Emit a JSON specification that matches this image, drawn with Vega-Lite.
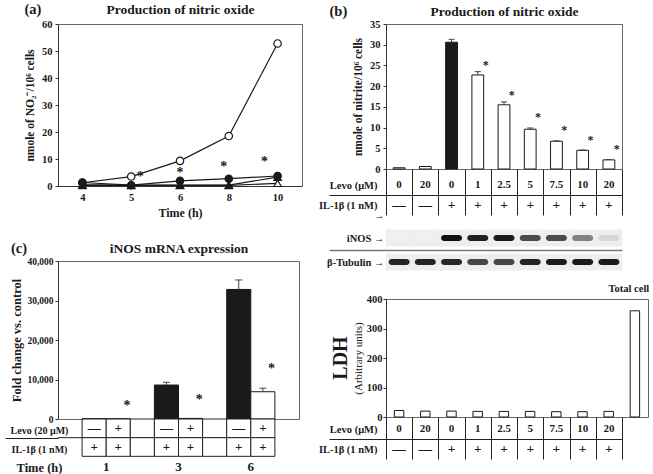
{
  "$schema": "https://vega.github.io/schema/vega-lite/v6.json",
  "background": "white",
  "padding": {"left": 4, "top": 1, "right": 0, "bottom": 0},
  "config": {
    "font": "Liberation Serif",
    "view": {"stroke": "#666", "strokeWidth": 1},
    "axis": {"labelFont": "Liberation Serif", "titleFont": "Liberation Serif", "labelFontWeight": "bold", "titleFontWeight": "bold", "labelFontSize": 10.5, "titleFontSize": 11.5, "labelColor": "#1a1a1a", "titleColor": "#1a1a1a", "domainColor": "#333", "tickColor": "#333", "grid": false, "labelOverlap": false},
    "title": {"font": "Liberation Serif", "fontWeight": "bold", "fontSize": 14.5, "color": "#1a1a1a"},
    "text": {"font": "Liberation Serif", "fontWeight": "bold", "color": "#1a1a1a"}
  },
  "spacing": 15,
  "hconcat": [
    {
      "spacing": 0,
      "bounds": "flush",
      "vconcat": [
        {
          "width": 244, "height": 162,
          "title": {"text": "(a)", "anchor": "start", "frame": "bounds", "offset": -15},
          "data": {"values": [
            {"time": 4, "series": "ot", "value": 0.2}, {"time": 5, "series": "ot", "value": 0.2}, {"time": 6, "series": "ot", "value": 0.2}, {"time": 8, "series": "ot", "value": 0.2}, {"time": 10, "series": "ot", "value": 1.0},
            {"time": 4, "series": "ft", "value": 0.4}, {"time": 5, "series": "ft", "value": 0.3}, {"time": 6, "series": "ft", "value": 0.3}, {"time": 8, "series": "ft", "value": 0.3}, {"time": 10, "series": "ft", "value": 3.3},
            {"time": 4, "series": "oc", "value": 1.2}, {"time": 5, "series": "oc", "value": 3.5}, {"time": 6, "series": "oc", "value": 9.3}, {"time": 8, "series": "oc", "value": 18.5}, {"time": 10, "series": "oc", "value": 52.8},
            {"time": 4, "series": "fc", "value": 1.3}, {"time": 5, "series": "fc", "value": 0.3}, {"time": 6, "series": "fc", "value": 1.9}, {"time": 8, "series": "fc", "value": 2.7}, {"time": 10, "series": "fc", "value": 3.7}
          ]},
          "resolve": {"axis": {"x": "independent"}},
          "layer": [
            {
              "mark": {"type": "line", "color": "#1a1a1a", "strokeWidth": 1.2},
              "encoding": {
                "x": {"field": "time", "type": "ordinal", "scale": {"type": "point", "domain": [4, 5, 6, 8, 10], "padding": 0.5},
                      "axis": {"orient": "bottom", "title": "Time (h)", "labelAngle": 0, "titleFontSize": 12, "labelPadding": 6, "titlePadding": 5, "ticks": false}},
                "y": {"field": "value", "type": "quantitative", "scale": {"domain": [0, 60]}, "title": "nmole of NO₂⁻/10⁶ cells",
                      "axis": {"values": [0, 10, 20, 30, 40, 50, 60], "tickCount": 7, "titlePadding": 6, "labelPadding": 3, "tickSize": 3, "labelOverlap": false}},
                "detail": {"field": "series"}
              }
            },
            {
              "mark": {"type": "point", "filled": true, "stroke": "#1a1a1a", "strokeWidth": 1.2, "size": 55, "opacity": 1},
              "encoding": {
                "x": {"field": "time", "type": "ordinal", "axis": {"orient": "top", "title": "Production of nitric oxide", "labels": false, "ticks": false, "domain": false, "titleFontSize": 13.5, "titlePadding": 8}},
                "y": {"field": "value", "type": "quantitative", "title": "nmole of NO₂⁻/10⁶ cells", "axis": {"values": [0, 10, 20, 30, 40, 50, 60], "tickCount": 7, "titlePadding": 6, "labelPadding": 3, "tickSize": 3, "labelOverlap": false}},
                "fill": {"field": "series", "type": "nominal", "scale": {"domain": ["ot", "ft", "oc", "fc"], "range": ["white", "#1a1a1a", "white", "#1a1a1a"]}, "legend": null},
                "shape": {"field": "series", "type": "nominal", "scale": {"domain": ["ot", "ft", "oc", "fc"], "range": ["triangle-up", "triangle-up", "circle", "circle"]}, "legend": null}
              }
            },
            {
              "data": {"values": [{"time": 5, "value": 3.2}]},
              "mark": {"type": "text", "text": "*", "fontSize": 14, "dx": 9, "baseline": "middle"},
              "encoding": {"x": {"field": "time", "type": "ordinal", "axis": null}, "y": {"field": "value", "type": "quantitative", "title": "nmole of NO₂⁻/10⁶ cells", "axis": {"values": [0, 10, 20, 30, 40, 50, 60], "tickCount": 7, "titlePadding": 6, "labelPadding": 3, "tickSize": 3, "labelOverlap": false}}}
            },
            {
              "data": {"values": [{"time": 6, "value": 4.7}]},
              "mark": {"type": "text", "text": "*", "fontSize": 14, "dx": 0, "baseline": "middle"},
              "encoding": {"x": {"field": "time", "type": "ordinal", "axis": null}, "y": {"field": "value", "type": "quantitative", "title": "nmole of NO₂⁻/10⁶ cells", "axis": {"values": [0, 10, 20, 30, 40, 50, 60], "tickCount": 7, "titlePadding": 6, "labelPadding": 3, "tickSize": 3, "labelOverlap": false}}}
            },
            {
              "data": {"values": [{"time": 8, "value": 7.2}]},
              "mark": {"type": "text", "text": "*", "fontSize": 14, "dx": -5, "baseline": "middle"},
              "encoding": {"x": {"field": "time", "type": "ordinal", "axis": null}, "y": {"field": "value", "type": "quantitative", "title": "nmole of NO₂⁻/10⁶ cells", "axis": {"values": [0, 10, 20, 30, 40, 50, 60], "tickCount": 7, "titlePadding": 6, "labelPadding": 3, "tickSize": 3, "labelOverlap": false}}}
            },
            {
              "data": {"values": [{"time": 10, "value": 8.8}]},
              "mark": {"type": "text", "text": "*", "fontSize": 14, "dx": -13, "baseline": "middle"},
              "encoding": {"x": {"field": "time", "type": "ordinal", "axis": null}, "y": {"field": "value", "type": "quantitative", "title": "nmole of NO₂⁻/10⁶ cells", "axis": {"values": [0, 10, 20, 30, 40, 50, 60], "tickCount": 7, "titlePadding": 6, "labelPadding": 3, "tickSize": 3, "labelOverlap": false}}}
            }
          ]
        },
        {
          "width": 241, "height": 75,
          "view": {"stroke": null},
          "data": {"values": []},
          "mark": {"type": "point"}
        },
        {
          "width": 241, "height": 158,
          "title": {"text": "(c)", "anchor": "start", "frame": "bounds", "offset": -15},
          "data": {"values": [
            {"slot": "1-", "c": "b", "v": 60},
            {"slot": "1+", "c": "w", "v": 30, "sy": 3400},
            {"slot": "3-", "c": "b", "v": 8600, "e": 9300},
            {"slot": "3+", "c": "w", "v": 150, "sy": 4800},
            {"slot": "6-", "c": "b", "v": 32800, "e": 35200},
            {"slot": "6+", "c": "w", "v": 6900, "e": 7800, "sy": 12600}
          ]},
          "encoding": {
            "x": {"field": "slot", "type": "nominal", "scale": {"type": "band", "domain": ["s0", "1-", "1+", "g1", "3-", "3+", "g2", "6-", "6+", "s9"], "paddingInner": 0, "paddingOuter": 0},
                  "axis": {"orient": "top", "title": "iNOS mRNA expression", "labels": false, "ticks": false, "domain": false, "titleFontSize": 13.5, "titlePadding": 6}},
            "y": {"field": "v", "type": "quantitative", "scale": {"domain": [0, 40000]}, "title": "Fold change vs. control",
                  "axis": {"values": [0, 10000, 20000, 30000, 40000], "format": ",.0f", "titleFontSize": 12.5, "titlePadding": 3, "tickSize": 3, "labelFontSize": 9.5}}
          },
          "layer": [
            {"transform": [{"filter": "datum.c === 'b'"}], "mark": {"type": "bar", "width": {"band": 1}, "fill": "#1a1a1a", "stroke": "#1a1a1a", "strokeWidth": 1}},
            {"transform": [{"filter": "datum.c === 'w'"}], "mark": {"type": "bar", "width": {"band": 1}, "fill": "white", "stroke": "#1a1a1a", "strokeWidth": 1}},
            {"transform": [{"filter": "isValid(datum.e)"}], "mark": {"type": "rule", "color": "#444"},
             "encoding": {"y2": {"field": "e"}}},
            {"transform": [{"filter": "isValid(datum.e)"}], "mark": {"type": "tick", "orient": "horizontal", "size": 7, "thickness": 1, "color": "#444", "opacity": 1},
             "encoding": {"y": {"field": "e", "type": "quantitative", "title": "Fold change vs. control"}}},
            {"transform": [{"filter": "isValid(datum.sy)"}], "mark": {"type": "text", "text": "*", "fontSize": 14, "baseline": "middle"},
             "encoding": {"x": {"field": "slot", "type": "nominal", "bandPosition": 0.86}, "y": {"field": "sy", "type": "quantitative", "title": "Fold change vs. control"}}}
          ]
        },
        {
          "width": 241, "height": 56,
          "view": {"stroke": null},
          "data": {"values": [
            {"kind": "cell", "slot": "1-", "row": "Levo (20 μM)", "t": "—"}, {"kind": "cell", "slot": "1+", "row": "Levo (20 μM)", "t": "+"}, {"kind": "cell", "slot": "g1", "row": "Levo (20 μM)", "t": ""},
            {"kind": "cell", "slot": "3-", "row": "Levo (20 μM)", "t": "—"}, {"kind": "cell", "slot": "3+", "row": "Levo (20 μM)", "t": "+"}, {"kind": "cell", "slot": "g2", "row": "Levo (20 μM)", "t": ""},
            {"kind": "cell", "slot": "6-", "row": "Levo (20 μM)", "t": "—"}, {"kind": "cell", "slot": "6+", "row": "Levo (20 μM)", "t": "+"},
            {"kind": "cell", "slot": "1-", "row": "IL-1β (1 nM)", "t": "+"}, {"kind": "cell", "slot": "1+", "row": "IL-1β (1 nM)", "t": "+"}, {"kind": "cell", "slot": "g1", "row": "IL-1β (1 nM)", "t": ""},
            {"kind": "cell", "slot": "3-", "row": "IL-1β (1 nM)", "t": "+"}, {"kind": "cell", "slot": "3+", "row": "IL-1β (1 nM)", "t": "+"}, {"kind": "cell", "slot": "g2", "row": "IL-1β (1 nM)", "t": ""},
            {"kind": "cell", "slot": "6-", "row": "IL-1β (1 nM)", "t": "+"}, {"kind": "cell", "slot": "6+", "row": "IL-1β (1 nM)", "t": "+"},
            {"kind": "time", "slot": "1+", "row": "Time (h)", "t": "1"}, {"kind": "time", "slot": "3+", "row": "Time (h)", "t": "3"}, {"kind": "time", "slot": "6+", "row": "Time (h)", "t": "6"},
            {"kind": "line", "slot": "s0", "row": "IL-1β (1 nM)", "t": ""}
          ]},
          "encoding": {
            "x": {"field": "slot", "type": "nominal", "scale": {"type": "band", "domain": ["s0", "1-", "1+", "g1", "3-", "3+", "g2", "6-", "6+", "s9"], "paddingInner": 0, "paddingOuter": 0}, "axis": null},
            "y": {"field": "row", "type": "nominal", "scale": {"type": "band", "domain": ["Levo (20 μM)", "IL-1β (1 nM)", "Time (h)"], "paddingInner": 0, "paddingOuter": 0},
                  "axis": {"title": null, "domain": false, "tickBand": "extent", "tickSize": 53, "tickColor": "#222",
                           "tickOpacity": {"condition": {"test": "datum.value === 'Levo (20 μM)'", "value": 1}, "value": 0},
                           "labelAlign": "center", "labelPadding": -34, "labelOffset": 2,
                           "labelFontSize": {"condition": {"test": "datum.value === 'Time (h)'", "value": 12.5}, "value": 10}}}
          },
          "layer": [
            {"transform": [{"filter": "datum.kind === 'cell'"}], "mark": {"type": "rect", "fill": "white", "stroke": "#222", "strokeWidth": 1}},
            {"transform": [{"filter": "datum.kind === 'cell'"}], "mark": {"type": "text", "fontSize": 13}, "encoding": {"text": {"field": "t"}}},
            {"transform": [{"filter": "datum.kind === 'time'"}], "mark": {"type": "text", "fontSize": 13, "dy": 1}, "encoding": {"x": {"field": "slot", "type": "nominal", "bandPosition": 0}, "text": {"field": "t"}}},
            {"transform": [{"filter": "datum.kind === 'line'"}], "mark": {"type": "tick", "orient": "horizontal", "size": 24.5, "thickness": 1, "color": "#222", "opacity": 1}, "encoding": {"y": {"field": "row", "type": "nominal", "bandPosition": 0}}}
          ]
        }
      ]
    },
    {
      "spacing": 0,
      "bounds": "flush",
      "vconcat": [
        {
          "width": 236, "height": 145,
          "title": {"text": "(b)", "anchor": "start", "frame": "bounds", "offset": -15, "dx": -23},
          "data": {"values": [
            {"lane": "1", "v": 0.3, "c": "w"},
            {"lane": "2", "v": 0.6, "c": "w"},
            {"lane": "3", "v": 30.6, "e": 31.3, "c": "b"},
            {"lane": "4", "v": 22.7, "e": 23.5, "c": "w", "sy": 25.2},
            {"lane": "5", "v": 15.5, "e": 16.2, "c": "w", "sy": 17.8},
            {"lane": "6", "v": 9.6, "e": 9.9, "c": "w", "sy": 12.6},
            {"lane": "7", "v": 6.7, "e": 6.8, "c": "w", "sy": 9.5},
            {"lane": "8", "v": 4.5, "e": 4.6, "c": "w", "sy": 7.0},
            {"lane": "9", "v": 2.2, "e": 2.3, "c": "w", "sy": 4.8}
          ]},
          "encoding": {
            "x": {"field": "lane", "type": "nominal", "scale": {"type": "band", "domain": ["1", "2", "3", "4", "5", "6", "7", "8", "9"], "paddingInner": 0, "paddingOuter": 0},
                  "axis": {"orient": "top", "title": "Production of nitric oxide", "labels": false, "ticks": false, "domain": false, "titleFontSize": 13.5, "titlePadding": 6}},
            "y": {"field": "v", "type": "quantitative", "scale": {"domain": [0, 35]}, "title": "nmole of nitrite/10⁶ cells",
                  "axis": {"values": [0, 5, 10, 15, 20, 25, 30, 35], "titlePadding": 6, "tickSize": 3, "labelPadding": 3}}
          },
          "layer": [
            {"transform": [{"filter": "datum.c === 'b'"}], "mark": {"type": "bar", "width": {"band": 0.45}, "fill": "#1a1a1a", "stroke": "#1a1a1a", "strokeWidth": 1}},
            {"transform": [{"filter": "datum.c === 'w'"}], "mark": {"type": "bar", "width": {"band": 0.45}, "fill": "white", "stroke": "#1a1a1a", "strokeWidth": 1}},
            {"transform": [{"filter": "isValid(datum.e)"}], "mark": {"type": "rule", "color": "#444"},
             "encoding": {"y2": {"field": "e"}}},
            {"transform": [{"filter": "isValid(datum.e)"}], "mark": {"type": "tick", "orient": "horizontal", "size": 6, "thickness": 1, "color": "#444", "opacity": 1},
             "encoding": {"y": {"field": "e", "type": "quantitative", "title": "nmole of nitrite/10⁶ cells"}}},
            {"transform": [{"filter": "isValid(datum.sy)"}], "mark": {"type": "text", "text": "*", "fontSize": 12, "baseline": "middle"},
             "encoding": {"x": {"field": "lane", "type": "nominal", "bandPosition": 0.8}, "y": {"field": "sy", "type": "quantitative", "title": "nmole of nitrite/10⁶ cells"}}}
          ]
        },
        {
          "width": 236, "height": 46,
          "view": {"stroke": null},
          "data": {"values": [
            {"lane": "1", "row": "Levo (μM)", "t": "0"}, {"lane": "2", "row": "Levo (μM)", "t": "20"}, {"lane": "3", "row": "Levo (μM)", "t": "0"},
            {"lane": "4", "row": "Levo (μM)", "t": "1"}, {"lane": "5", "row": "Levo (μM)", "t": "2.5"}, {"lane": "6", "row": "Levo (μM)", "t": "5"},
            {"lane": "7", "row": "Levo (μM)", "t": "7.5"}, {"lane": "8", "row": "Levo (μM)", "t": "10"}, {"lane": "9", "row": "Levo (μM)", "t": "20"},
            {"lane": "1", "row": "IL-1β (1 nM)", "t": "—"}, {"lane": "2", "row": "IL-1β (1 nM)", "t": "—"}, {"lane": "3", "row": "IL-1β (1 nM)", "t": "+"},
            {"lane": "4", "row": "IL-1β (1 nM)", "t": "+"}, {"lane": "5", "row": "IL-1β (1 nM)", "t": "+"}, {"lane": "6", "row": "IL-1β (1 nM)", "t": "+"},
            {"lane": "7", "row": "IL-1β (1 nM)", "t": "+"}, {"lane": "8", "row": "IL-1β (1 nM)", "t": "+"}, {"lane": "9", "row": "IL-1β (1 nM)", "t": "+"}
          ]},
          "encoding": {
            "x": {"field": "lane", "type": "nominal", "scale": {"type": "band", "domain": ["1", "2", "3", "4", "5", "6", "7", "8", "9"], "paddingInner": 0, "paddingOuter": 0},
                  "axis": {"orient": "bottom", "labels": false, "ticks": false, "domain": false, "title": null, "grid": true, "tickBand": "extent", "gridColor": "#222", "gridWidth": 1}},
            "y": {"field": "row", "type": "nominal", "scale": {"type": "band", "domain": ["Levo (μM)", "IL-1β (1 nM)"], "paddingInner": 0, "paddingOuter": 0.15, "align": 1},
                  "axis": {"title": null, "domain": false, "tickBand": "extent", "tickSize": 57, "tickColor": "#222",
                           "tickOpacity": {"condition": {"test": "datum.value === 'Levo (μM)'", "value": 1}, "value": 0},
                           "grid": true, "gridColor": "#222",
                           "gridOpacity": {"condition": {"test": "datum.value === 'Levo (μM)'", "value": 1}, "value": 0},
                           "labelPadding": -48, "labelFontSize": 10.5}},
            "text": {"field": "t"}
          },
          "layer": [
            {"transform": [{"filter": "datum.row === 'Levo (μM)'"}], "mark": {"type": "text", "fontSize": 11}},
            {"transform": [{"filter": "datum.row !== 'Levo (μM)'"}], "mark": {"type": "text", "fontSize": 13.5}}
          ]
        },
        {
          "width": 236, "height": 84,
          "view": {"stroke": null},
          "data": {"values": [
            {"lane": "1", "p": "iNOS", "k": 0}, {"lane": "2", "p": "iNOS", "k": 0}, {"lane": "3", "p": "iNOS", "k": 1},
            {"lane": "4", "p": "iNOS", "k": 0.92}, {"lane": "5", "p": "iNOS", "k": 0.95}, {"lane": "6", "p": "iNOS", "k": 0.7},
            {"lane": "7", "p": "iNOS", "k": 0.7}, {"lane": "8", "p": "iNOS", "k": 0.45}, {"lane": "9", "p": "iNOS", "k": 0.1},
            {"lane": "1", "p": "β-Tubulin", "k": 0.9}, {"lane": "2", "p": "β-Tubulin", "k": 0.9}, {"lane": "3", "p": "β-Tubulin", "k": 0.88},
            {"lane": "4", "p": "β-Tubulin", "k": 0.72}, {"lane": "5", "p": "β-Tubulin", "k": 0.72}, {"lane": "6", "p": "β-Tubulin", "k": 0.9},
            {"lane": "7", "p": "β-Tubulin", "k": 0.95}, {"lane": "8", "p": "β-Tubulin", "k": 0.95}, {"lane": "9", "p": "β-Tubulin", "k": 0.95}
          ]},
          "encoding": {
            "x": {"field": "lane", "type": "nominal", "scale": {"type": "band", "domain": ["1", "2", "3", "4", "5", "6", "7", "8", "9"], "paddingInner": 0, "paddingOuter": 0}, "axis": null},
            "y": {"field": "p", "type": "nominal", "scale": {"type": "band", "domain": ["iNOS", "β-Tubulin"], "paddingInner": 0, "paddingOuter": 0.75, "align": 0.306},
                  "axis": {"title": null, "domain": false, "labelExpr": "datum.label + '  →'", "tickBand": "extent", "tickSize": 57, "tickColor": "#777", "tickWidth": 1.5,
                           "tickOpacity": {"condition": {"test": "datum.value === 'iNOS'", "value": 1}, "value": 0},
                           "grid": true, "gridColor": "#777", "gridWidth": 1.5,
                           "gridOpacity": {"condition": {"test": "datum.value === 'iNOS'", "value": 1}, "value": 0},
                           "labelPadding": -55, "labelFontSize": 10.5}}
          },
          "layer": [
            {"mark": {"type": "tick", "orient": "horizontal", "size": 26.8, "thickness": 17, "color": "#eeeeee", "opacity": 1}},
            {"mark": {"type": "tick", "orient": "horizontal", "size": 21, "thickness": 6, "cornerRadius": 3, "opacity": 1},
             "encoding": {"color": {"field": "k", "type": "quantitative", "scale": {"domain": [0, 1], "range": ["#f0f0f0", "#111111"]}, "legend": null}}}
          ]
        },
        {
          "width": 262, "height": 118,
          "title": {"text": "LDH", "orient": "left", "anchor": "middle", "fontSize": 20, "offset": 1},
          "data": {"values": [
            {"lane": "1", "v": 22}, {"lane": "2", "v": 20}, {"lane": "3", "v": 20}, {"lane": "4", "v": 19}, {"lane": "5", "v": 19},
            {"lane": "6", "v": 19}, {"lane": "7", "v": 18}, {"lane": "8", "v": 18}, {"lane": "9", "v": 19}, {"lane": "TC", "v": 360}
          ]},
          "mark": {"type": "bar", "width": {"band": 0.36}, "fill": "white", "stroke": "#1a1a1a", "strokeWidth": 1},
          "encoding": {
            "x": {"field": "lane", "type": "nominal", "scale": {"type": "band", "domain": ["1", "2", "3", "4", "5", "6", "7", "8", "9", "TC"], "paddingInner": 0, "paddingOuter": 0},
                  "axis": {"orient": "top", "title": null, "ticks": false, "domain": false, "labelAngle": 0, "labelExpr": "datum.value === 'TC' ? 'Total cell' : ''", "labelPadding": 6, "labelFontSize": 10.5, "labelOffset": -6}},
            "y": {"field": "v", "type": "quantitative", "scale": {"domain": [0, 400]}, "title": "(Arbitrary units)",
                  "axis": {"values": [0, 100, 200, 300, 400], "titleFontWeight": "normal", "titleFontSize": 11, "titlePadding": 3, "tickSize": 3, "labelPadding": 1}}
          }
        },
        {
          "width": 236, "height": 42,
          "view": {"stroke": null},
          "data": {"values": [
            {"lane": "1", "row": "Levo (μM)", "t": "0"}, {"lane": "2", "row": "Levo (μM)", "t": "20"}, {"lane": "3", "row": "Levo (μM)", "t": "0"},
            {"lane": "4", "row": "Levo (μM)", "t": "1"}, {"lane": "5", "row": "Levo (μM)", "t": "2.5"}, {"lane": "6", "row": "Levo (μM)", "t": "5"},
            {"lane": "7", "row": "Levo (μM)", "t": "7.5"}, {"lane": "8", "row": "Levo (μM)", "t": "10"}, {"lane": "9", "row": "Levo (μM)", "t": "20"},
            {"lane": "1", "row": "IL-1β (1 nM)", "t": "—"}, {"lane": "2", "row": "IL-1β (1 nM)", "t": "—"}, {"lane": "3", "row": "IL-1β (1 nM)", "t": "+"},
            {"lane": "4", "row": "IL-1β (1 nM)", "t": "+"}, {"lane": "5", "row": "IL-1β (1 nM)", "t": "+"}, {"lane": "6", "row": "IL-1β (1 nM)", "t": "+"},
            {"lane": "7", "row": "IL-1β (1 nM)", "t": "+"}, {"lane": "8", "row": "IL-1β (1 nM)", "t": "+"}, {"lane": "9", "row": "IL-1β (1 nM)", "t": "+"}
          ]},
          "encoding": {
            "x": {"field": "lane", "type": "nominal", "scale": {"type": "band", "domain": ["1", "2", "3", "4", "5", "6", "7", "8", "9"], "paddingInner": 0, "paddingOuter": 0},
                  "axis": {"orient": "bottom", "labels": false, "ticks": false, "domain": false, "title": null, "grid": true, "tickBand": "extent", "gridColor": "#222", "gridWidth": 1}},
            "y": {"field": "row", "type": "nominal", "scale": {"type": "band", "domain": ["Levo (μM)", "IL-1β (1 nM)"], "paddingInner": 0, "paddingOuter": 0.05, "align": 1},
                  "axis": {"title": null, "domain": false, "tickBand": "extent", "tickSize": 57, "tickColor": "#222",
                           "tickOpacity": {"condition": {"test": "datum.value === 'Levo (μM)'", "value": 1}, "value": 0},
                           "grid": true, "gridColor": "#222",
                           "gridOpacity": {"condition": {"test": "datum.value === 'Levo (μM)'", "value": 1}, "value": 0},
                           "labelPadding": -48, "labelFontSize": 10.5}},
            "text": {"field": "t"}
          },
          "layer": [
            {"transform": [{"filter": "datum.row === 'Levo (μM)'"}], "mark": {"type": "text", "fontSize": 11}},
            {"transform": [{"filter": "datum.row !== 'Levo (μM)'"}], "mark": {"type": "text", "fontSize": 13.5}}
          ]
        }
      ]
    }
  ]
}
